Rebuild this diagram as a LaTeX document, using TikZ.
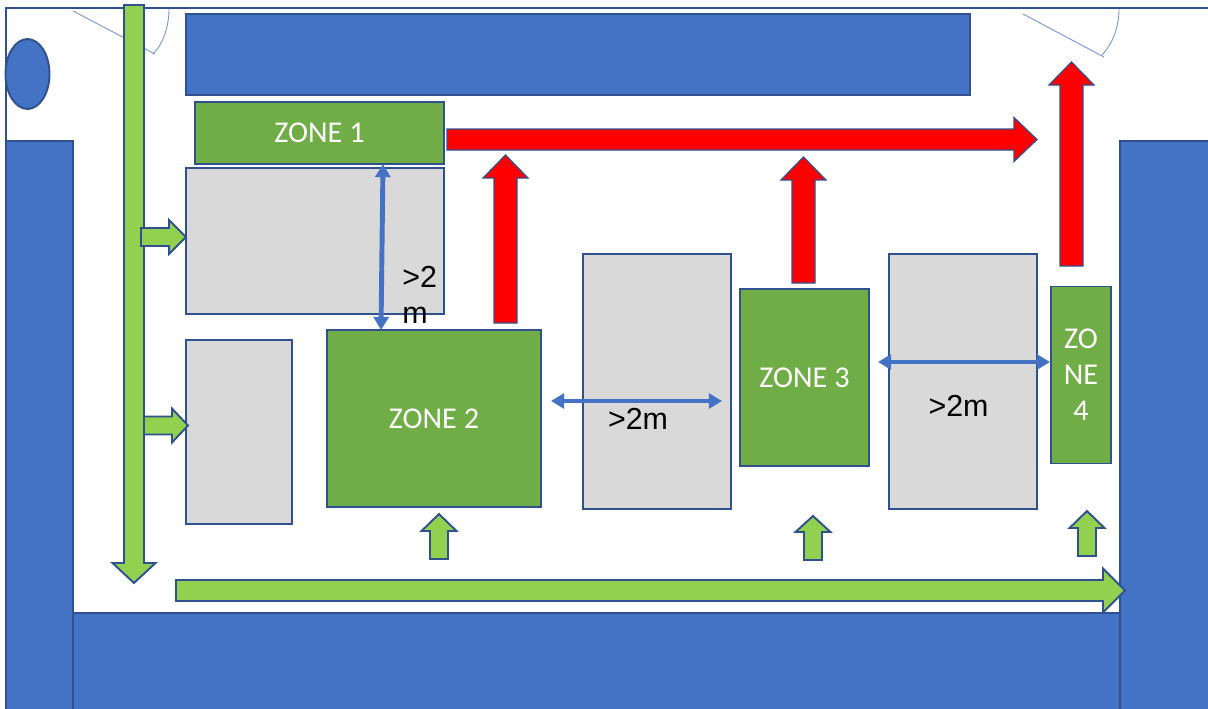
\documentclass[tikz,border=0pt]{standalone}
\usepackage{fontspec}
\setmainfont{Liberation Sans}
\newfontfamily\zonefont{Carlito}
\usetikzlibrary{arrows.meta}
\definecolor{wallblue}{HTML}{4472C4}
\definecolor{walledge}{HTML}{2F528F}
\definecolor{zonegreen}{HTML}{70AD47}
\definecolor{flowgreen}{HTML}{92D050}
\definecolor{rackgrey}{HTML}{D9D9D9}
\tikzset{
  wall/.style={draw=walledge, line width=1.1pt, fill=wallblue},
  rack/.style={draw=walledge, line width=0.7pt, fill=rackgrey},
  zone/.style={draw=walledge, line width=0.8pt, fill=zonegreen, text=white, inner sep=0pt, align=center,
    font=\zonefont\fontsize{17.2}{20.5}\selectfont},
  flow/.style={draw=walledge, line width=1.1pt, fill=flowgreen, line join=miter},
  exitflow/.style={draw=walledge, line width=0.7pt, fill=red, line join=miter},
  door/.style={draw=wallblue!75, line width=0.5pt},
  gap/.style={draw=wallblue, line width=2.8pt, {Triangle[length=7.5pt,width=8.5pt]}-{Triangle[length=7.5pt,width=8.5pt]}},
  gaptext/.style={inner sep=0pt, text=black, align=left, font=\fontsize{17.3}{20.5}\selectfont}
}
% rectangle by its corners: style, left, top, right, bottom
\newcommand{\boxat}[5]{\draw[#1] (#2,#3) rectangle (#4,#5);}
% block arrow upwards: style, centre, tip, head base, tail, half head, half shaft
\newcommand{\uparrowat}[7]{\draw[#1] (#2,#3) -- (#2+#6,#4) -- (#2+#7,#4) -- (#2+#7,#5) -- (#2-#7,#5) -- (#2-#7,#4) -- (#2-#6,#4) -- cycle;}
% block arrow to the right: style, centre, tip, head base, tail, half head, half shaft
\newcommand{\rightarrowat}[7]{\draw[#1] (#3,#2) -- (#4,#2-#6) -- (#4,#2-#7) -- (#5,#2-#7) -- (#5,#2+#7) -- (#4,#2+#7) -- (#4,#2+#6) -- cycle;}
\begin{document}
\begin{tikzpicture}[x=0.02cm, y=-0.02cm]
  \useasboundingbox (0,0) rectangle (1208,708);
  \fill[white] (0,0) rectangle (1208,708);

  % Outline of the room
  \draw[walledge, line width=1.1pt] (6,141) -- (6,8) -- (1208,8);

  % Walls and top bar
  \boxat{wall}{6}{141}{73}{714}
  \boxat{wall}{1120}{141}{1214}{714}
  \boxat{wall}{73}{613}{1120}{714}
  \boxat{wall}{186}{14}{970}{95}
  \draw[wall] (27.5,74) ellipse (22 and 35);

  % Doors
  \draw[door] (73,11) -- (155,54);
  \draw[door] (169,9) .. controls (169,25) and (164,43) .. (153,54);
  \draw[door] (1023,14) -- (1104,57);
  \draw[door] (1119,9) .. controls (1119,25) and (1114,42) .. (1102,55);

  % Grey racks
  \boxat{rack}{186}{168}{444}{314}
  \boxat{rack}{186}{340}{292}{524}
  \boxat{rack}{583}{254}{731}{509}
  \boxat{rack}{889}{254}{1037}{509}

  % Zones
  \node[zone, minimum width=4.98cm, minimum height=1.24cm] (zone1) at (319.5,133) {ZONE 1};
  \node[zone, minimum width=4.28cm, minimum height=3.54cm] (zone2) at (434,418.5) {ZONE 2};
  \node[zone, minimum width=2.58cm, minimum height=3.54cm] (zone3) at (804.5,377.5) {ZONE 3};
  \node[zone, minimum width=1.2cm, minimum height=3.54cm] (zone4) at (1081,375) {ZO\\NE\\4};

  % Green flows
  \uparrowat{flow}{134}{583}{563}{5}{21.5}{10}
  \rightarrowat{flow}{590.5}{1125}{1103}{176}{22}{10.5}
  \foreach \cy/\tip/\base/\tail in {237/186/169/141, 425.5/188/172/144} {
    \rightarrowat{flow}{\cy}{\tip}{\base}{\tail}{17}{9}
  }
  \foreach \cx/\tip/\base/\tail in {439/514/531/559, 813/516/532/560, 1087/511/528/556} {
    \uparrowat{flow}{\cx}{\tip}{\base}{\tail}{17.5}{9}
  }

  % Red exit flows
  \rightarrowat{exitflow}{139.5}{1037}{1014}{447}{22}{10.5}
  \foreach \cx/\tip/\base/\tail in {505.5/155/178/323, 803.5/157/180/283, 1071.5/62/85/266} {
    \uparrowat{exitflow}{\cx}{\tip}{\base}{\tail}{22.5}{11.5}
  }

  % Distances
  \coordinate (gapA) at (551,401);
  \coordinate (gapB) at (722,401);
  \coordinate (gapC) at (878,362);
  \coordinate (gapD) at (1050,362);
  \coordinate (gapE) at (383,164);
  \coordinate (gapF) at (381,330);
  \draw[gap] (gapE) -- (gapF);
  \draw[gap] (gapA) -- (gapB);
  \draw[gap] (gapC) -- (gapD);
  \node[gaptext, anchor=north west] (label1) at (402,265.5) {>2\\m};
  \node[gaptext] (label2) at (638,419) {>2m};
  \node[gaptext] (label3) at (958.5,406) {>2m};
\end{tikzpicture}
\end{document}
